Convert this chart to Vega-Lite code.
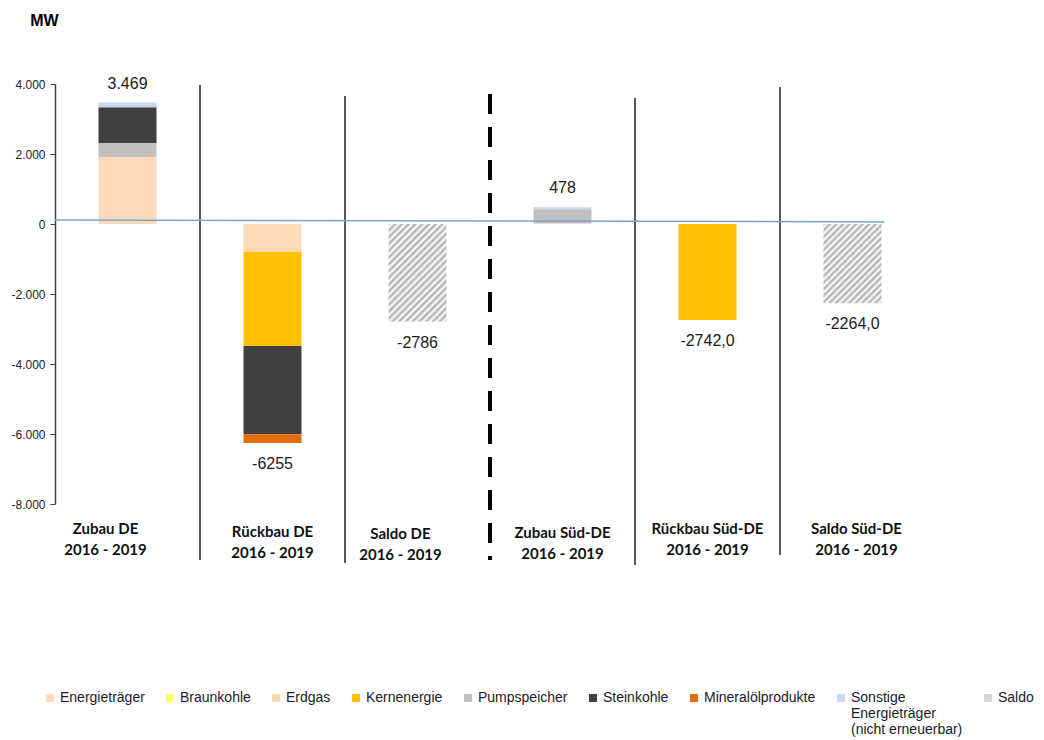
{
  "$schema": "https://vega.github.io/schema/vega-lite/v6.json",
  "width": 870,
  "height": 420,
  "autosize": {"type": "none"},
  "padding": {"left": 55, "top": 84, "right": 119, "bottom": 236},
  "background": "white",
  "config": {
    "view": {"stroke": null},
    "font": "Liberation Sans",
    "locale": {"number": {"decimal": ",", "thousands": ".", "grouping": [3], "currency": ["", " €"], "minus": "-"}}
  },
  "layer": [
    {
      "layer": [
        {
          "data": {"values": [
            {"cat": "Zubau DE", "type": "Erdgas", "value": 1914},
            {"cat": "Zubau DE", "type": "Pumpspeicher", "value": 398},
            {"cat": "Zubau DE", "type": "Steinkohle", "value": 1024},
            {"cat": "Zubau DE", "type": "Sonstige Energieträger (nicht erneuerbar)", "value": 133},
            {"cat": "Rückbau DE", "type": "Erdgas", "value": -795},
            {"cat": "Rückbau DE", "type": "Kernenergie", "value": -2688},
            {"cat": "Rückbau DE", "type": "Steinkohle", "value": -2521},
            {"cat": "Rückbau DE", "type": "Mineralölprodukte", "value": -251},
            {"cat": "Zubau  Süd-DE", "type": "Erdgas", "value": 20},
            {"cat": "Zubau  Süd-DE", "type": "Pumpspeicher", "value": 400},
            {"cat": "Zubau  Süd-DE", "type": "Sonstige Energieträger (nicht erneuerbar)", "value": 58},
            {"cat": "Rückbau Süd-DE", "type": "Kernenergie", "value": -2742}
          ]},
          "transform": [{"window": [{"op": "row_number", "as": "k"}]}],
          "mark": {"type": "bar"},
          "encoding": {
            "x": {
              "field": "cat", "type": "nominal", "sort": null,
              "scale": {"domain": ["Zubau DE", "Rückbau DE", "Saldo DE", "Zubau  Süd-DE", "Rückbau Süd-DE", "Saldo Süd-DE"], "paddingInner": 0.6, "paddingOuter": 0.3},
              "axis": {
                "title": null, "domain": false, "ticks": false, "labelAngle": 0,
                "labelFont": "Lato", "labelFontWeight": "bold", "labelFontSize": 15, "labelColor": "#111111",
                "labelLineHeight": 21, "labelBaseline": "top",
                "labelExpr": "[datum.value, '2016  - 2019']",
                "labelOffset": {"condition": [
                  {"test": "datum.value == 'Zubau DE'", "value": -22},
                  {"test": "datum.value == 'Saldo DE'", "value": -17},
                  {"test": "datum.value == 'Saldo Süd-DE'", "value": 4}
                ], "value": 0},
                "labelPadding": {"condition": [
                  {"test": "datum.value == 'Rückbau DE'", "value": 20},
                  {"test": "datum.value == 'Saldo DE'", "value": 22},
                  {"test": "datum.value == 'Zubau  Süd-DE'", "value": 21}
                ], "value": 17}
              }
            },
            "y": {
              "field": "value", "type": "quantitative",
              "scale": {"domain": [-8000, 4000], "nice": false},
              "axis": {
                "title": "MW", "titleAngle": 0, "titleX": -11, "titleY": -64, "titleAlign": "center", "titleBaseline": "middle",
                "titleFont": "Liberation Sans", "titleFontSize": 16, "titleFontWeight": "bold", "titleColor": "#000000",
                "values": [-8000, -6000, -4000, -2000, 0, 2000, 4000], "format": ",d",
                "grid": false, "domainColor": "#404040", "domainWidth": 1.5, "tickColor": "#404040", "tickSize": 5,
                "labelFont": "Liberation Sans", "labelFontSize": 12, "labelColor": "#222222", "labelPadding": 5
              }
            },
            "order": {"field": "k", "type": "quantitative"},
            "color": {
              "field": "type", "type": "nominal",
              "scale": {
                "domain": ["Energieträger", "Braunkohle", "Erdgas", "Kernenergie", "Pumpspeicher", "Steinkohle", "Mineralölprodukte", "Sonstige Energieträger (nicht erneuerbar)", "Saldo"],
                "range": ["#FDD9B8", "#FFFF66", "#FDD9B8", "#FFC000", "#BFBFBF", "#404040", "#E46C0A", "#C6D9F1", "#D6D6D6"]
              },
              "legend": {
                "title": null, "orient": "none", "legendX": -12, "legendY": 607, "direction": "horizontal", "columns": 9,
                "symbolType": "square", "symbolSize": 64, "symbolStrokeWidth": 0,
                "labelFont": "Liberation Sans", "labelFontSize": 14, "labelColor": "#1a1a2e", "labelOffset": 3,
                "columnPadding": 18, "labelLimit": 300,
                "labelExpr": "datum.label == 'Sonstige Energieträger (nicht erneuerbar)' ? ['Sonstige', 'Energieträger', '(nicht erneuerbar)'] : [datum.label, ' ', ' ']"
              }
            }
          }
        },
        {
          "data": {"values": [{"cat": "Saldo DE", "value": -2786}]},
          "mark": {"type": "bar", "color": {"gradient": "linear", "x1": 0, "y1": 0, "x2": 0.701, "y2": 1.178, "stops": [
            {"offset": 0, "color": "#ADADAD"}, {"offset": 0.0217, "color": "#FFFFFF"}, {"offset": 0.0435, "color": "#ADADAD"}, {"offset": 0.0652, "color": "#FFFFFF"},
            {"offset": 0.087, "color": "#ADADAD"}, {"offset": 0.1087, "color": "#FFFFFF"}, {"offset": 0.1304, "color": "#ADADAD"}, {"offset": 0.1522, "color": "#FFFFFF"},
            {"offset": 0.1739, "color": "#ADADAD"}, {"offset": 0.1957, "color": "#FFFFFF"}, {"offset": 0.2174, "color": "#ADADAD"}, {"offset": 0.2391, "color": "#FFFFFF"},
            {"offset": 0.2609, "color": "#ADADAD"}, {"offset": 0.2826, "color": "#FFFFFF"}, {"offset": 0.3043, "color": "#ADADAD"}, {"offset": 0.3261, "color": "#FFFFFF"},
            {"offset": 0.3478, "color": "#ADADAD"}, {"offset": 0.3696, "color": "#FFFFFF"}, {"offset": 0.3913, "color": "#ADADAD"}, {"offset": 0.413, "color": "#FFFFFF"},
            {"offset": 0.4348, "color": "#ADADAD"}, {"offset": 0.4565, "color": "#FFFFFF"}, {"offset": 0.4783, "color": "#ADADAD"}, {"offset": 0.5, "color": "#FFFFFF"},
            {"offset": 0.5217, "color": "#ADADAD"}, {"offset": 0.5435, "color": "#FFFFFF"}, {"offset": 0.5652, "color": "#ADADAD"}, {"offset": 0.587, "color": "#FFFFFF"},
            {"offset": 0.6087, "color": "#ADADAD"}, {"offset": 0.6304, "color": "#FFFFFF"}, {"offset": 0.6522, "color": "#ADADAD"}, {"offset": 0.6739, "color": "#FFFFFF"},
            {"offset": 0.6957, "color": "#ADADAD"}, {"offset": 0.7174, "color": "#FFFFFF"}, {"offset": 0.7391, "color": "#ADADAD"}, {"offset": 0.7609, "color": "#FFFFFF"},
            {"offset": 0.7826, "color": "#ADADAD"}, {"offset": 0.8043, "color": "#FFFFFF"}, {"offset": 0.8261, "color": "#ADADAD"}, {"offset": 0.8478, "color": "#FFFFFF"},
            {"offset": 0.8696, "color": "#ADADAD"}, {"offset": 0.8913, "color": "#FFFFFF"}, {"offset": 0.913, "color": "#ADADAD"}, {"offset": 0.9348, "color": "#FFFFFF"},
            {"offset": 0.9565, "color": "#ADADAD"}, {"offset": 0.9783, "color": "#FFFFFF"}, {"offset": 1, "color": "#ADADAD"}
          ]}},
          "encoding": {
            "x": {"field": "cat", "type": "nominal", "sort": null},
            "y": {"field": "value", "type": "quantitative"}
          }
        },
        {
          "data": {"values": [{"cat": "Saldo Süd-DE", "value": -2264}]},
          "mark": {"type": "bar", "color": {"gradient": "linear", "x1": 0, "y1": 0, "x2": 0.826, "y2": 1.128, "stops": [
            {"offset": 0, "color": "#ADADAD"}, {"offset": 0.0238, "color": "#FFFFFF"}, {"offset": 0.0476, "color": "#ADADAD"}, {"offset": 0.0714, "color": "#FFFFFF"},
            {"offset": 0.0952, "color": "#ADADAD"}, {"offset": 0.119, "color": "#FFFFFF"}, {"offset": 0.1429, "color": "#ADADAD"}, {"offset": 0.1667, "color": "#FFFFFF"},
            {"offset": 0.1905, "color": "#ADADAD"}, {"offset": 0.2143, "color": "#FFFFFF"}, {"offset": 0.2381, "color": "#ADADAD"}, {"offset": 0.2619, "color": "#FFFFFF"},
            {"offset": 0.2857, "color": "#ADADAD"}, {"offset": 0.3095, "color": "#FFFFFF"}, {"offset": 0.3333, "color": "#ADADAD"}, {"offset": 0.3571, "color": "#FFFFFF"},
            {"offset": 0.381, "color": "#ADADAD"}, {"offset": 0.4048, "color": "#FFFFFF"}, {"offset": 0.4286, "color": "#ADADAD"}, {"offset": 0.4524, "color": "#FFFFFF"},
            {"offset": 0.4762, "color": "#ADADAD"}, {"offset": 0.5, "color": "#FFFFFF"}, {"offset": 0.5238, "color": "#ADADAD"}, {"offset": 0.5476, "color": "#FFFFFF"},
            {"offset": 0.5714, "color": "#ADADAD"}, {"offset": 0.5952, "color": "#FFFFFF"}, {"offset": 0.619, "color": "#ADADAD"}, {"offset": 0.6429, "color": "#FFFFFF"},
            {"offset": 0.6667, "color": "#ADADAD"}, {"offset": 0.6905, "color": "#FFFFFF"}, {"offset": 0.7143, "color": "#ADADAD"}, {"offset": 0.7381, "color": "#FFFFFF"},
            {"offset": 0.7619, "color": "#ADADAD"}, {"offset": 0.7857, "color": "#FFFFFF"}, {"offset": 0.8095, "color": "#ADADAD"}, {"offset": 0.8333, "color": "#FFFFFF"},
            {"offset": 0.8571, "color": "#ADADAD"}, {"offset": 0.881, "color": "#FFFFFF"}, {"offset": 0.9048, "color": "#ADADAD"}, {"offset": 0.9286, "color": "#FFFFFF"},
            {"offset": 0.9524, "color": "#ADADAD"}, {"offset": 0.9762, "color": "#FFFFFF"}, {"offset": 1, "color": "#ADADAD"}
          ]}},
          "encoding": {
            "x": {"field": "cat", "type": "nominal", "sort": null},
            "y": {"field": "value", "type": "quantitative"}
          }
        },
        {
          "data": {"values": [
            {"cat": "Zubau DE", "total": 3469, "label": "3.469"},
            {"cat": "Zubau  Süd-DE", "total": 478, "label": "478"}
          ]},
          "mark": {"type": "text", "font": "Liberation Sans", "fontSize": 16, "color": "#1a1a1a", "baseline": "middle", "dy": -19},
          "encoding": {
            "x": {"field": "cat", "type": "nominal", "sort": null},
            "y": {"field": "total", "type": "quantitative"},
            "text": {"field": "label"}
          }
        },
        {
          "data": {"values": [
            {"cat": "Rückbau DE", "total": -6255, "label": "-6255"},
            {"cat": "Saldo DE", "total": -2786, "label": "-2786"},
            {"cat": "Rückbau Süd-DE", "total": -2742, "label": "-2742,0"},
            {"cat": "Saldo Süd-DE", "total": -2264, "label": "-2264,0"}
          ]},
          "mark": {"type": "text", "font": "Liberation Sans", "fontSize": 16, "color": "#1a1a1a", "baseline": "middle", "dy": 21},
          "encoding": {
            "x": {"field": "cat", "type": "nominal", "sort": null},
            "y": {"field": "total", "type": "quantitative"},
            "text": {"field": "label"}
          }
        }
      ]
    },
    {
      "layer": [
        {
          "data": {"values": [
            {"pos": 1, "top": 3970, "bottom": -9600},
            {"pos": 2, "top": 3657, "bottom": -9686},
            {"pos": 4, "top": 3600, "bottom": -9743},
            {"pos": 5, "top": 3914, "bottom": -9457}
          ]},
          "mark": {"type": "rule", "color": "#222222", "strokeWidth": 1.5},
          "encoding": {
            "x": {"field": "pos", "type": "quantitative", "scale": {"domain": [0, 6], "nice": false, "zero": false}, "axis": null},
            "y": {"field": "top", "type": "quantitative", "scale": {"domain": [-8000, 4000], "nice": false}},
            "y2": {"field": "bottom"}
          }
        },
        {
          "data": {"values": [{"pos": 3, "top": 3714, "bottom": -9600}]},
          "mark": {"type": "rule", "color": "#000000", "strokeWidth": 4, "strokeDash": [20, 13]},
          "encoding": {
            "x": {"field": "pos", "type": "quantitative", "axis": null},
            "y": {"field": "top", "type": "quantitative"},
            "y2": {"field": "bottom"}
          }
        },
        {
          "data": {"values": [{"pos": 0, "level": 115}, {"pos": 5.72, "level": 60}]},
          "mark": {"type": "line", "color": "#7EA3D3", "strokeWidth": 1.5},
          "encoding": {
            "x": {"field": "pos", "type": "quantitative", "axis": null},
            "y": {"field": "level", "type": "quantitative"}
          }
        }
      ]
    }
  ],
  "resolve": {"scale": {"x": "independent"}, "axis": {"x": "independent"}}
}
